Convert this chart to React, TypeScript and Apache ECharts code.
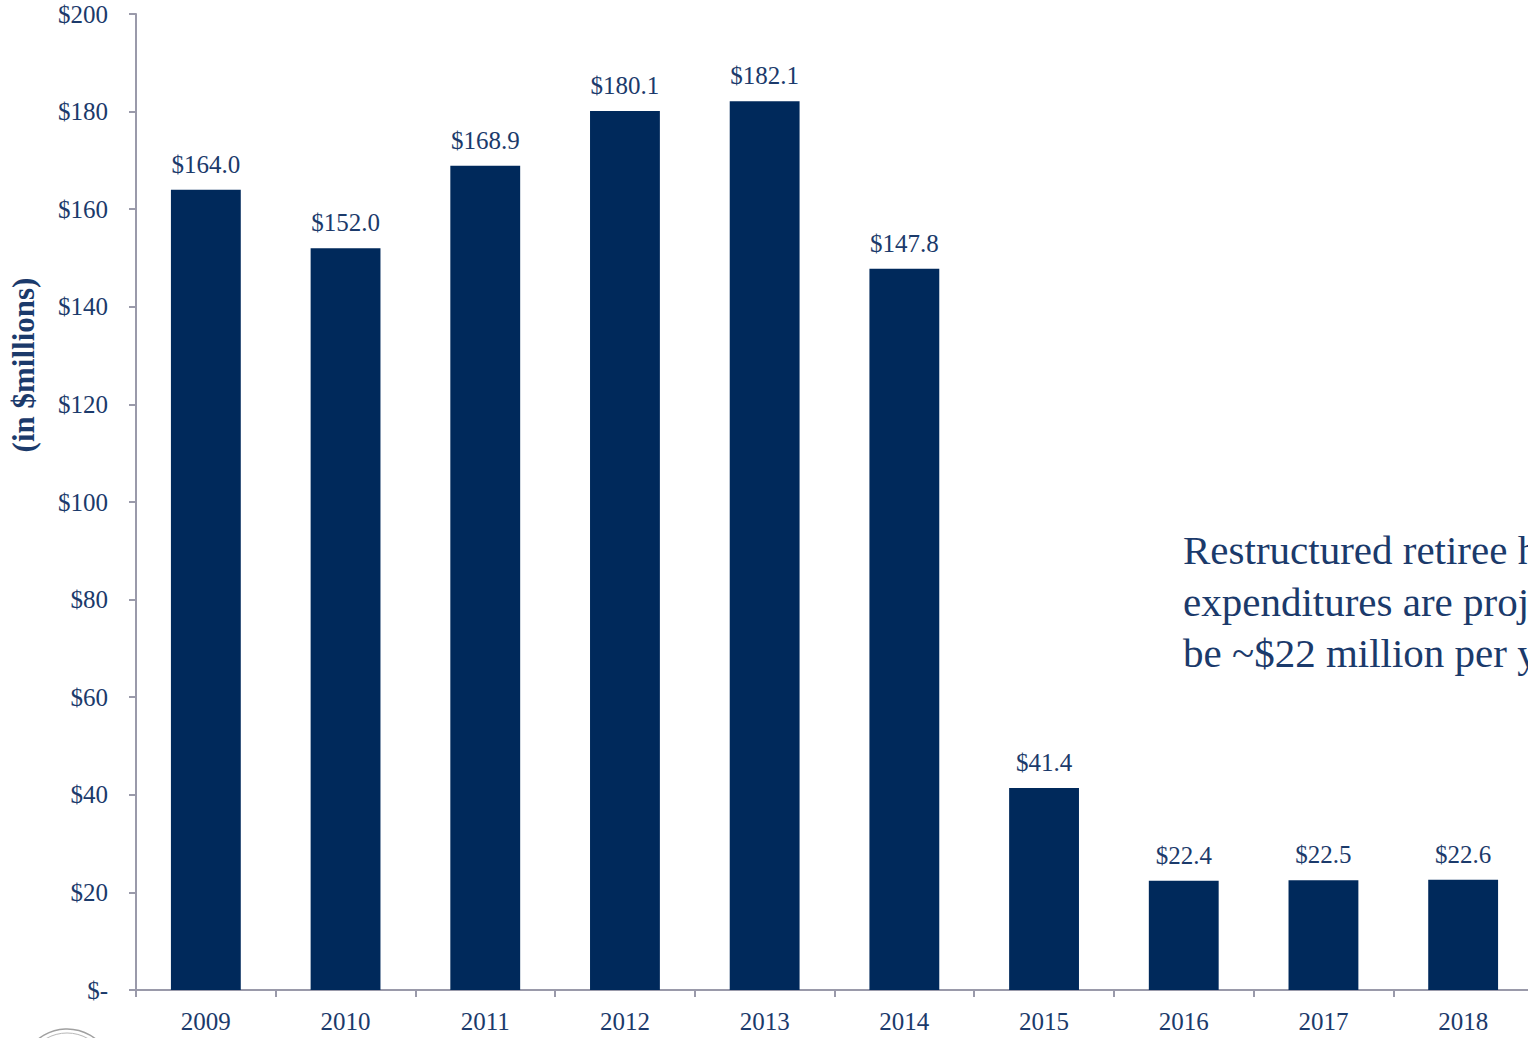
import React, { useEffect, useRef } from "react";
import * as echarts from "echarts";

const categories = ["2009", "2010", "2011", "2012", "2013", "2014", "2015", "2016", "2017", "2018"];
const values = [164.0, 152.0, 168.9, 180.1, 182.1, 147.8, 41.4, 22.4, 22.5, 22.6];
const yTicks = { min: 0, max: 200, interval: 20 };
const noteLines = [
  "Restructured retiree health care",
  "expenditures are projected to",
  "be ~$22 million per year",
];
const axisName = "(in $millions)";

const BAR = "#00295B";
const TEXT = "#1B3A6B";
const AXIS = "#9A9AAA";
const FONT = "'Liberation Serif', 'Times New Roman', serif";

export default function App() {
  const ref = useRef<HTMLDivElement>(null);
  useEffect(() => {
    if (!ref.current) return;
    const chart = echarts.init(ref.current, null, { renderer: "svg" });
    chart.setOption({
      animation: false,
      backgroundColor: "#ffffff",
      textStyle: { fontFamily: FONT },
      grid: { left: 136, top: 14, bottom: 48, right: 7, containLabel: false },
      xAxis: {
        type: "category",
        data: categories,
        axisLine: { show: true, lineStyle: { color: AXIS, width: 2 } },
        axisTick: { show: true, alignWithLabel: false, length: 7, lineStyle: { color: AXIS, width: 2 } },
        axisLabel: { color: TEXT, fontSize: 25, fontFamily: FONT, margin: 19 },
        splitLine: { show: false },
      },
      yAxis: {
        type: "value",
        min: yTicks.min,
        max: yTicks.max,
        interval: yTicks.interval,
        axisLine: { show: true, lineStyle: { color: AXIS, width: 2 } },
        axisTick: { show: true, length: 7, lineStyle: { color: AXIS, width: 2 } },
        axisLabel: {
          color: TEXT,
          fontSize: 25,
          fontFamily: FONT,
          margin: 28,
          formatter: (v: number) => (v === 0 ? "$-" : "$" + v),
        },
        splitLine: { show: false },
      },
      series: [
        {
          type: "bar",
          data: values,
          barWidth: "50%",
          itemStyle: { color: BAR },
          label: {
            show: true,
            position: "top",
            distance: 13,
            color: TEXT,
            fontSize: 25,
            fontFamily: FONT,
            formatter: (p: any) => "$" + Number(p.value).toFixed(1),
          },
        },
      ],
      graphic: [
        {
          type: "text",
          x: 23,
          y: 365,
          rotation: Math.PI / 2,
          style: {
            text: axisName,
            fill: TEXT,
            font: `bold 31px ${FONT}`,
            align: "center",
            verticalAlign: "middle",
          },
        },
        ...noteLines.map((t, i) => ({
          type: "text",
          x: 1183,
          y: 550 + i * 51.5,
          style: {
            text: t,
            fill: TEXT,
            font: `41px ${FONT}`,
            align: "left",
            verticalAlign: "middle",
          },
        })),
        {
          type: "circle",
          shape: { cx: 67, cy: 1075, r: 46 },
          style: { fill: "none", stroke: "#A0A0A0", lineWidth: 1.5 },
        },
        {
          type: "circle",
          shape: { cx: 67, cy: 1075, r: 42 },
          style: { fill: "none", stroke: "#B8B8B8", lineWidth: 1 },
        },
      ],
    });
    return () => chart.dispose();
  }, []);
  return (
    <div style={{ position: "absolute", left: 0, top: 0, width: 1528, height: 1038, overflow: "hidden", background: "#fff" }}>
      <div ref={ref} style={{ width: 1540, height: 1038 }} />
    </div>
  );
}
